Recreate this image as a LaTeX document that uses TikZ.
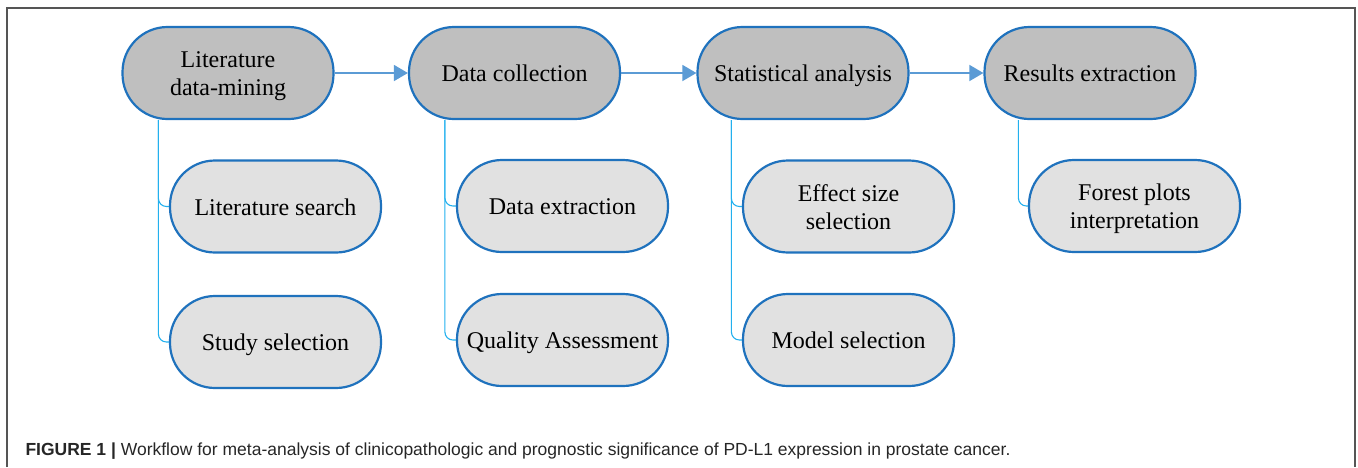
\documentclass[tikz,border=0pt]{standalone}
\usepackage{fontspec}
\setmainfont{Liberation Serif}
\newfontfamily\capfont{Liberation Sans}
\usetikzlibrary{arrows.meta,positioning,calc}

\definecolor{edgeblue}{HTML}{1F72BD}
\definecolor{arrowblue}{HTML}{5B9BD5}
\definecolor{linkblue}{HTML}{22B0EE}
\definecolor{stagegray}{HTML}{BFBFBF}
\definecolor{taskgray}{HTML}{E1E1E1}
\definecolor{framegray}{HTML}{555555}

\tikzset{
    stage/.style={draw=edgeblue, line width=2.2pt, fill=stagegray, rounded corners=45pt,
        minimum width=211pt, minimum height=92pt, inner sep=0pt, align=center,
        text height=17pt, text depth=0pt, font=\fontsize{24}{28}\selectfont},
    task/.style={stage, fill=taskgray},
    twoline/.style={text height=45pt, text depth=0pt},
    flow/.style={draw=arrowblue, line width=1.6pt, -{Triangle[length=14pt,width=16pt]}},
    branch/.style={draw=linkblue, line width=1.1pt, rounded corners=8pt}
}

\begin{document}
\begin{tikzpicture}[x=1pt, y=-1pt]
    \useasboundingbox (0,0) rectangle (1358,467);
    % Frame
    \draw[framegray, line width=2pt] (7,467) -- (7,8) -- (1355,8) -- (1355,467);

    % Main stages
    \node[stage, twoline] (mine) at (228,73) {Literature\\data-mining};
    \node[stage] (collect) at (514.5,73) {Data collection};
    \node[stage] (stats) at (803,73) {Statistical analysis};
    \node[stage] (results) at (1090,73) {Results extraction};

    % Sub tasks
    \node[task] (search) at (275.5,206.5) {Literature search};
    \node[task] (select) at (275.5,342) {Study selection};
    \node[task] (extract) at (562.5,206) {Data extraction};
    \node[task] (quality) at (562.5,340) {Quality Assessment};
    \node[task, twoline] (effect) at (848.5,206.5) {Effect size\\selection};
    \node[task] (model) at (848.5,340) {Model selection};
    \node[task, twoline] (forest) at (1134.5,206) {Forest plots\\interpretation};

    % Flow between stages
    \draw[flow] (mine) -- (collect);
    \draw[flow] (collect) -- (stats);
    \draw[flow] (stats) -- (results);

    % Branches to tasks
    \coordinate (mineroot) at ($(mine.south west)+(37,0)$);
    \coordinate (collectroot) at ($(collect.south west)+(37,0)$);
    \coordinate (statsroot) at ($(stats.south west)+(35,0)$);
    \coordinate (resultsroot) at ($(results.south west)+(35,0)$);
    \draw[branch] (mineroot) |- (search.west);
    \draw[branch] (mineroot) |- (select.west);
    \draw[branch] (collectroot) |- (extract.west);
    \draw[branch] (collectroot) |- (quality.west);
    \draw[branch] (statsroot) |- (effect.west);
    \draw[branch] (statsroot) |- (model.west);
    \draw[branch] (resultsroot) |- (forest.west);

    % Caption
    \node[anchor=base west, text=black!85, font=\capfont\fontsize{17.5}{20}\selectfont] (caption) at (22,455)
        {\textbf{FIGURE 1 |} Workflow for meta-analysis of clinicopathologic and prognostic significance of PD-L1 expression in prostate cancer.};
\end{tikzpicture}
\end{document}
